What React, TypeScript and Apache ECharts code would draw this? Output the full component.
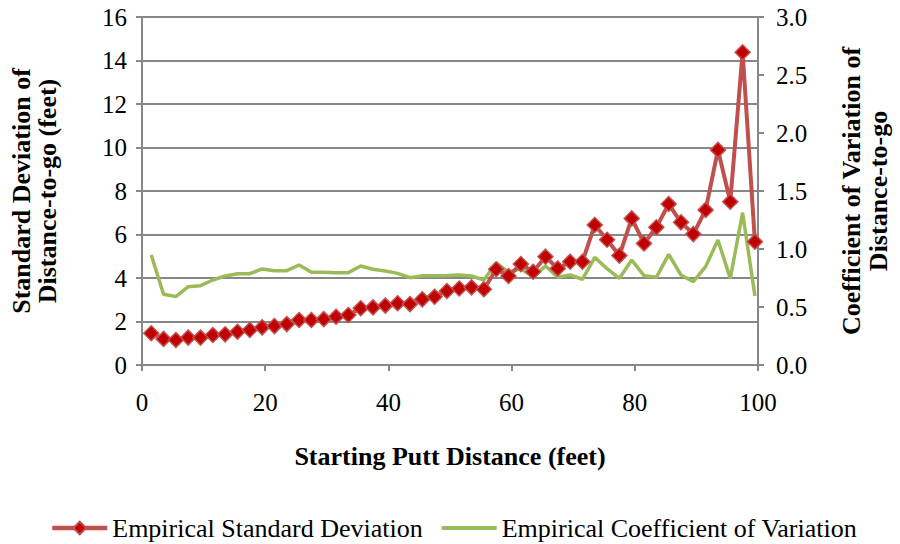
import React, { useEffect, useRef } from "react";
import * as echarts from "echarts";

const distances = [
  1.5, 3.5, 5.5, 7.5, 9.5, 11.5, 13.5, 15.5, 17.5, 19.5, 21.5, 23.5, 25.5,
  27.5, 29.5, 31.5, 33.5, 35.5, 37.5, 39.5, 41.5, 43.5, 45.5, 47.5, 49.5,
  51.5, 53.5, 55.5, 57.5, 59.5, 61.5, 63.5, 65.5, 67.5, 69.5, 71.5, 73.5, 75.5,
  77.5, 79.5, 81.5, 83.5, 85.5, 87.5, 89.5, 91.5, 93.5, 95.5, 97.5, 99.5,
];

const stdDev = [
  1.46, 1.2, 1.15, 1.26, 1.26, 1.38, 1.41, 1.53, 1.61, 1.73, 1.79, 1.88, 2.07,
  2.07, 2.11, 2.22, 2.3, 2.61, 2.65, 2.73, 2.84, 2.8, 3.02, 3.14, 3.4,
  3.52, 3.57, 3.48, 4.4, 4.09, 4.64, 4.29, 4.98, 4.44, 4.75, 4.75, 6.44, 5.76,
  5.03, 6.74, 5.59, 6.33, 7.4, 6.56, 6.02, 7.13, 9.89, 7.51, 14.38, 5.67,
];

const coefVar = [
  0.948, 0.61, 0.59, 0.675, 0.684, 0.733, 0.767, 0.787, 0.787, 0.828, 0.813, 0.813, 0.862,
  0.8, 0.8, 0.796, 0.796, 0.853, 0.825, 0.81, 0.79, 0.753, 0.77, 0.77, 0.772,
  0.776, 0.767, 0.733, 0.88, 0.8, 0.83, 0.76, 0.853, 0.756, 0.776, 0.739, 0.928, 0.83,
  0.747, 0.905, 0.77, 0.756, 0.954, 0.776, 0.718, 0.848, 1.078, 0.747, 1.313, 0.595,
];

const FONT = "Liberation Serif";
const GRAY = "#878787";

export default function App() {
  const ref = useRef<HTMLDivElement>(null);
  useEffect(() => {
    if (!ref.current) return;
    const chart = echarts.init(ref.current, null, { renderer: "svg" });
    const sdData = distances.map((d, i) => [d, stdDev[i]]);
    const cvData = distances.map((d, i) => [d, coefVar[i]]);
    chart.setOption({
      animation: false,
      backgroundColor: "#ffffff",
      textStyle: { fontFamily: FONT },
      grid: { left: 138.5, right: 139, top: 17, bottom: 179 },
      legend: {
        left: 45,
        top: 510,
        itemWidth: 55,
        itemHeight: 16,
        itemGap: 19,
        lineStyle: { width: 4.5 },
        textStyle: { fontFamily: FONT, fontSize: 26, color: "#000" },
        data: [
          { name: "Empirical Standard Deviation" },
          { name: "Empirical Coefficient of Variation", icon: "path://M0,0 H100 V7 H0 Z" },
        ],
      },
      xAxis: {
        type: "value",
        min: 0,
        max: 100,
        interval: 20,
        name: "Starting Putt Distance (feet)",
        nameLocation: "middle",
        nameGap: 78,
        nameTextStyle: { fontFamily: FONT, fontSize: 26, fontWeight: "bold", color: "#000" },
        axisLine: { lineStyle: { color: GRAY, width: 2 } },
        axisTick: { show: true, inside: false, length: 6, lineStyle: { color: GRAY, width: 2 } },
        axisLabel: { fontFamily: FONT, fontSize: 25, color: "#000", margin: 25 },
        splitLine: { show: false },
      },
      yAxis: [
        {
          type: "value",
          min: 0,
          max: 16,
          interval: 2,
          position: "left",
          name: "Standard Deviation of\nDistance-to-go (feet)",
          nameLocation: "middle",
          nameRotate: 90,
          nameGap: 82,
          nameTextStyle: { fontFamily: FONT, fontSize: 26, fontWeight: "bold", color: "#000", lineHeight: 26 },
          axisLine: { show: true, lineStyle: { color: GRAY, width: 2 } },
          axisTick: { show: true, length: 6, lineStyle: { color: GRAY, width: 2 } },
          axisLabel: { fontFamily: FONT, fontSize: 25, color: "#000", margin: 15 },
          splitLine: { show: true, lineStyle: { color: GRAY, width: 2 } },
        },
        {
          type: "value",
          min: 0,
          max: 3,
          interval: 0.5,
          position: "right",
          name: "Coefficient of Variation of\nDistance-to-go",
          nameLocation: "middle",
          nameRotate: 90,
          nameGap: 80,
          nameTextStyle: { fontFamily: FONT, fontSize: 26, fontWeight: "bold", color: "#000", lineHeight: 27 },
          axisLine: { show: true, lineStyle: { color: GRAY, width: 2 } },
          axisTick: { show: true, length: 6, lineStyle: { color: GRAY, width: 2 } },
          axisLabel: {
            fontFamily: FONT,
            fontSize: 25,
            color: "#000",
            margin: 18,
            formatter: (v: number) => v.toFixed(1),
          },
          splitLine: { show: false },
        },
      ],
      series: [
        {
          name: "Empirical Standard Deviation",
          type: "line",
          yAxisIndex: 0,
          data: sdData,
          symbol: "diamond",
          symbolSize: 15,
          lineStyle: { color: "#C0504D", width: 4 },
          itemStyle: { color: "#C00000", borderColor: "#C0504D", borderWidth: 1.5 },
          z: 3,
        },
        {
          name: "Empirical Coefficient of Variation",
          type: "line",
          yAxisIndex: 1,
          data: cvData,
          symbol: "none",
          showSymbol: false,
          lineStyle: { color: "#9BBB59", width: 3.5 },
          itemStyle: { color: "#9BBB59" },
          z: 2,
        },
      ],
    });
    return () => chart.dispose();
  }, []);
  return (
    <div
      ref={ref}
      style={{ position: "fixed", left: 0, top: 0, width: 900, height: 544, background: "#fff" }}
    />
  );
}
